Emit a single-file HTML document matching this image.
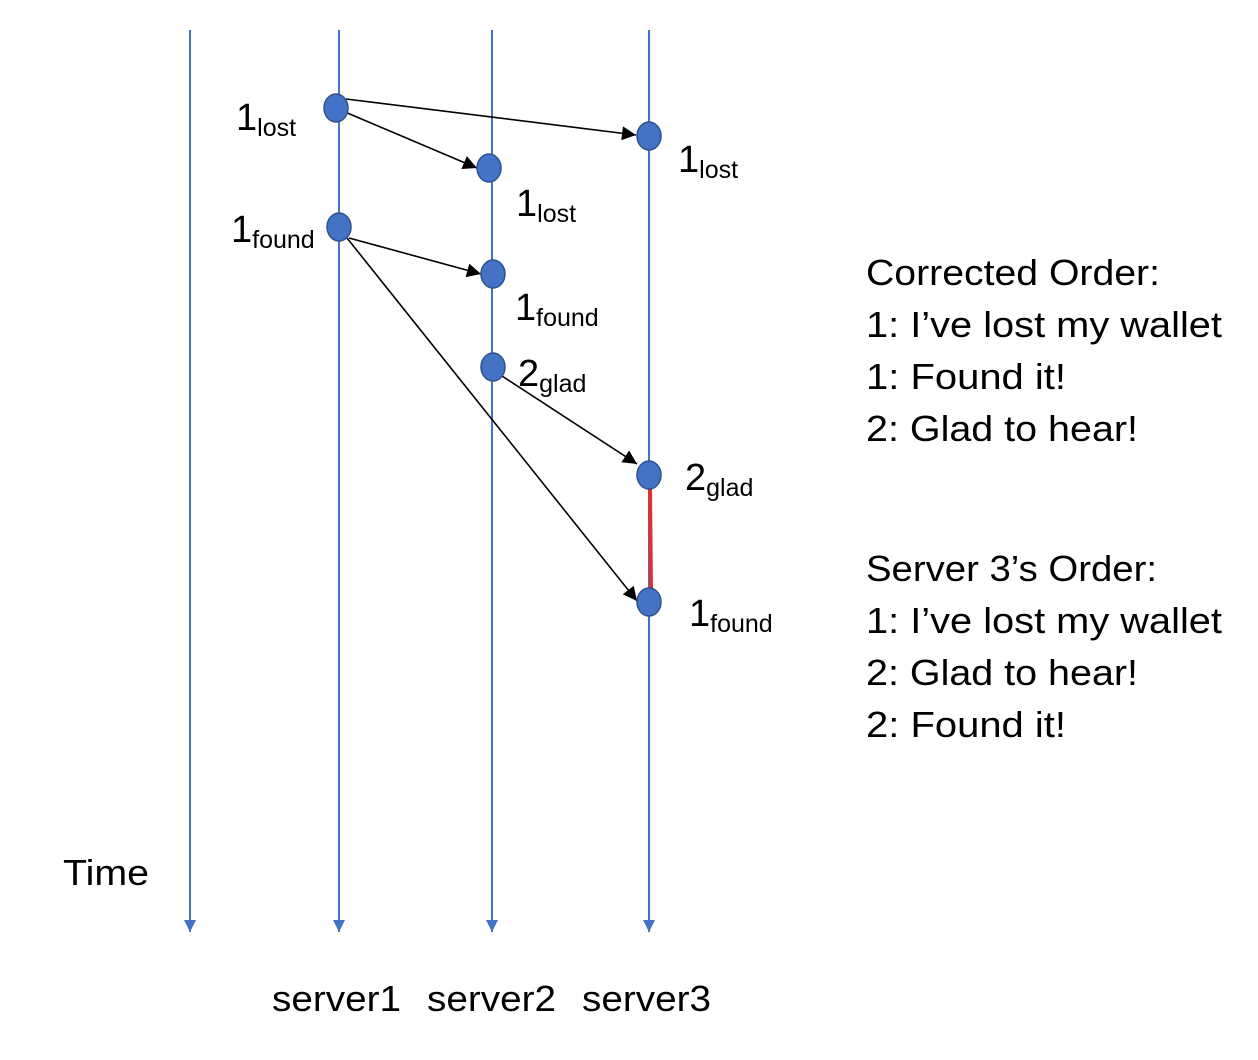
<!DOCTYPE html>
<html><head><meta charset="utf-8"><style>
html,body{margin:0;padding:0;background:#fff;}
svg{display:block;}
text{font-family:"Liberation Sans",sans-serif;fill:#000;}
</style></head><body>
<svg width="1258" height="1060" viewBox="0 0 1258 1060" xmlns="http://www.w3.org/2000/svg">
<defs>
<marker id="b" viewBox="0 0 10 10" refX="10" refY="5" markerWidth="12" markerHeight="12" markerUnits="userSpaceOnUse" orient="auto"><path d="M0,0 L10,5 L0,10 z" fill="#4472c4"/></marker>
<marker id="k" viewBox="0 0 10 10" refX="10" refY="5" markerWidth="16" markerHeight="14" markerUnits="userSpaceOnUse" orient="auto"><path d="M0,0 L10,5 L0,10 z" fill="#000"/></marker>
</defs>
<g stroke="#4472c4" stroke-width="2" marker-end="url(#b)">
<line x1="190" y1="30" x2="190" y2="932"/>
<line x1="339" y1="30" x2="339" y2="932"/>
<line x1="492" y1="30" x2="492" y2="932"/>
<line x1="649" y1="30" x2="649" y2="932"/>
</g>
<line x1="650" y1="487" x2="651" y2="590" stroke="#e03030" stroke-width="4"/>
<g stroke="#000" stroke-width="1.6" marker-end="url(#k)">
<line x1="346" y1="99" x2="636" y2="135"/>
<line x1="345" y1="112" x2="477" y2="168"/>
<line x1="349" y1="238" x2="481" y2="274"/>
<line x1="347" y1="238" x2="637" y2="601"/>
<line x1="502" y1="376" x2="637" y2="464"/>
</g>
<g fill="#4472c4" stroke="#2f528f" stroke-width="1.5">
<ellipse cx="336" cy="108" rx="12" ry="14"/>
<ellipse cx="649" cy="136" rx="12" ry="14"/>
<ellipse cx="489" cy="168" rx="12" ry="14"/>
<ellipse cx="339" cy="227" rx="12" ry="14"/>
<ellipse cx="493" cy="274" rx="12" ry="14"/>
<ellipse cx="493" cy="367" rx="12" ry="14"/>
<ellipse cx="649" cy="475" rx="12" ry="14"/>
<ellipse cx="649" cy="602" rx="12" ry="14"/>
</g>
<g font-size="38">
<text x="236" y="130">1<tspan font-size="25" dy="6">lost</tspan></text>
<text x="678" y="172">1<tspan font-size="25" dy="6">lost</tspan></text>
<text x="516" y="216">1<tspan font-size="25" dy="6">lost</tspan></text>
<text x="231" y="242">1<tspan font-size="25" dy="6">found</tspan></text>
<text x="515" y="320">1<tspan font-size="25" dy="6">found</tspan></text>
<text x="518" y="386">2<tspan font-size="25" dy="6">glad</tspan></text>
<text x="685" y="490">2<tspan font-size="25" dy="6">glad</tspan></text>
<text x="689" y="626">1<tspan font-size="25" dy="6">found</tspan></text>
</g>
<g font-size="36">
<text x="866" y="285" textLength="294" lengthAdjust="spacingAndGlyphs">Corrected Order:</text>
<text x="866" y="337" textLength="356" lengthAdjust="spacingAndGlyphs">1: I’ve lost my wallet</text>
<text x="866" y="389" textLength="200" lengthAdjust="spacingAndGlyphs">1: Found it!</text>
<text x="866" y="441" textLength="272" lengthAdjust="spacingAndGlyphs">2: Glad to hear!</text>
<text x="866" y="581" textLength="291" lengthAdjust="spacingAndGlyphs">Server 3’s Order:</text>
<text x="866" y="633" textLength="356" lengthAdjust="spacingAndGlyphs">1: I’ve lost my wallet</text>
<text x="866" y="685" textLength="272" lengthAdjust="spacingAndGlyphs">2: Glad to hear!</text>
<text x="866" y="737" textLength="200" lengthAdjust="spacingAndGlyphs">2: Found it!</text>
<text x="63" y="885" textLength="86" lengthAdjust="spacingAndGlyphs">Time</text>
<text x="272" y="1011" textLength="129" lengthAdjust="spacingAndGlyphs">server1</text>
<text x="427" y="1011" textLength="129" lengthAdjust="spacingAndGlyphs">server2</text>
<text x="582" y="1011" textLength="129" lengthAdjust="spacingAndGlyphs">server3</text>
</g>
</svg>
</body></html>
